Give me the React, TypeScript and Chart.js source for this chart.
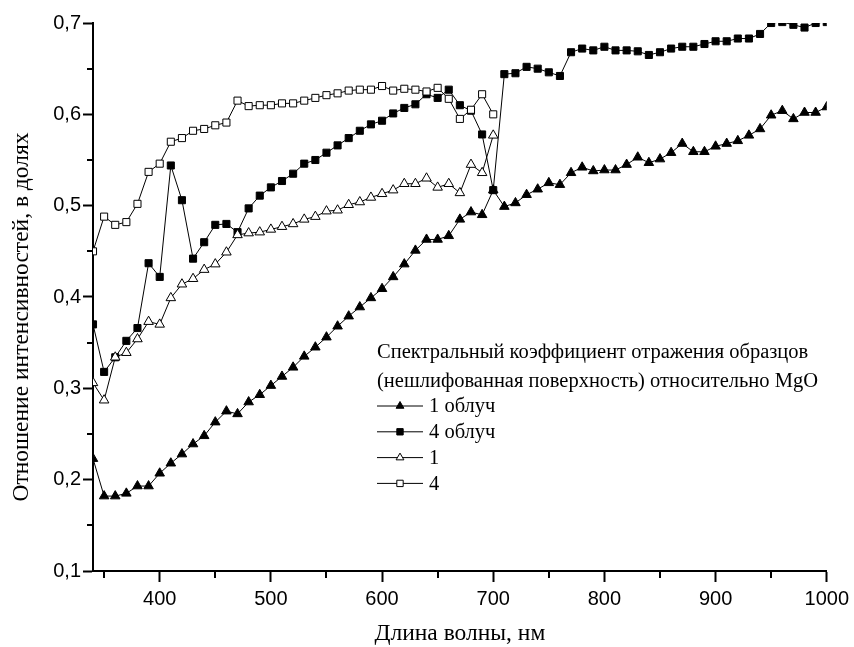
import React, { useEffect, useRef } from "react";
import { Chart, registerables } from "chart.js";

Chart.register(...registerables);

const wavelengthsFull = [
  340, 350, 360, 370, 380, 390, 400, 410, 420, 430, 440, 450, 460, 470, 480, 490,
  500, 510, 520, 530, 540, 550, 560, 570, 580, 590, 600, 610, 620, 630, 640, 650,
  660, 670, 680, 690, 700, 710, 720, 730, 740, 750, 760, 770, 780, 790, 800, 810,
  820, 830, 840, 850, 860, 870, 880, 890, 900, 910, 920, 930, 940, 950, 960, 970,
  980, 990, 1000,
];
const wavelengthsShort = [
  340, 350, 360, 370, 380, 390, 400, 410, 420, 430, 440, 450, 460, 470, 480, 490,
  500, 510, 520, 530, 540, 550, 560, 570, 580, 590, 600, 610, 620, 630, 640, 650,
  660, 670, 680, 690, 700,
];

const irradiated1 = [
  0.223, 0.182, 0.182, 0.185, 0.193, 0.193, 0.207, 0.218, 0.228, 0.239, 0.248, 0.263,
  0.275, 0.272, 0.285, 0.293, 0.303, 0.313, 0.323, 0.335, 0.345, 0.356, 0.368, 0.379,
  0.389, 0.399, 0.409, 0.422, 0.436, 0.451, 0.463, 0.463, 0.467, 0.485, 0.493, 0.49,
  0.517, 0.499, 0.503, 0.512, 0.518, 0.525, 0.523, 0.536, 0.542, 0.538, 0.539, 0.539,
  0.545, 0.553, 0.547, 0.551, 0.558, 0.568, 0.559, 0.559, 0.565, 0.568, 0.571, 0.577,
  0.584, 0.599, 0.604, 0.595, 0.602, 0.602, 0.608,
];
const irradiated4 = [
  0.37, 0.318, 0.334, 0.352, 0.366, 0.437, 0.422, 0.544, 0.506, 0.442, 0.46, 0.479,
  0.48, 0.471, 0.497, 0.511, 0.52, 0.527, 0.535, 0.546, 0.55, 0.558, 0.566, 0.574,
  0.582, 0.589, 0.593, 0.601, 0.607, 0.611, 0.622, 0.618, 0.627, 0.61, 0.604, 0.578,
  0.517, 0.644, 0.645, 0.652, 0.65, 0.646, 0.642, 0.668, 0.672, 0.67, 0.674, 0.67,
  0.67, 0.669, 0.665, 0.668, 0.672, 0.674, 0.674, 0.677, 0.68, 0.68, 0.683, 0.683,
  0.688, 0.7, 0.701, 0.698, 0.695, 0.7, 0.701,
];
const sample1 = [
  0.306, 0.287, 0.334, 0.339, 0.354, 0.373, 0.37, 0.399, 0.414, 0.42, 0.43, 0.436,
  0.449, 0.468, 0.47, 0.471, 0.474, 0.477, 0.48, 0.485, 0.488, 0.494, 0.495, 0.501,
  0.504, 0.509, 0.513, 0.517, 0.524, 0.524, 0.53, 0.52, 0.524, 0.514, 0.545, 0.536,
  0.577,
];
const sample4 = [
  0.45, 0.488, 0.479, 0.482, 0.502, 0.537, 0.546, 0.57, 0.574, 0.582, 0.584, 0.588,
  0.591, 0.615, 0.609, 0.61, 0.61, 0.612, 0.612, 0.615, 0.618, 0.621, 0.623, 0.626,
  0.627, 0.627, 0.631, 0.626, 0.628, 0.627, 0.625, 0.629, 0.617, 0.595, 0.605, 0.622,
  0.6,
];

const seriesLabels = ["1 облуч", "4 облуч", "1", "4"];
const legendTitle = [
  "Спектральный коэффициент отражения образцов",
  "(нешлифованная поверхность) относительно MgO",
];
const xAxisTitle = "Длина волны, нм";
const yAxisTitle = "Отношение интенсивностей, в долях";
const xMajorTicks = [400, 500, 600, 700, 800, 900, 1000];
const xMinorTicks = [350, 450, 550, 650, 750, 850, 950];
const yMajorTicks = [0.1, 0.2, 0.3, 0.4, 0.5, 0.6, 0.7];
const yMinorTicks = [0.15, 0.25, 0.35, 0.45, 0.55, 0.65];

const SERIF = "'Liberation Serif', 'Times New Roman', serif";
const SANS = "'Liberation Sans', Arial, sans-serif";

function toPoints(xs: number[], ys: number[]) {
  return ys.map((v, i) => ({ x: xs[i], y: v }));
}

function drawMarker(ctx: CanvasRenderingContext2D, style: string, filled: boolean, x: number, y: number, r: number) {
  ctx.beginPath();
  if (style === "triangle") {
    ctx.moveTo(x, y - r);
    ctx.lineTo(x + r * 0.866, y + r * 0.5);
    ctx.lineTo(x - r * 0.866, y + r * 0.5);
    ctx.closePath();
  } else {
    const s = r * Math.SQRT1_2;
    ctx.rect(x - s, y - s, 2 * s, 2 * s);
  }
  ctx.fillStyle = filled ? "#000" : "#fff";
  ctx.fill();
  ctx.lineWidth = 1;
  ctx.strokeStyle = "#000";
  ctx.stroke();
}

const minorTicksPlugin = {
  id: "minorTicks",
  afterDraw(chart: any) {
    const ctx = chart.ctx as CanvasRenderingContext2D;
    const xs = chart.scales.x;
    const ys = chart.scales.y;
    ctx.save();
    ctx.strokeStyle = "#000";
    ctx.lineWidth = 2;
    ctx.beginPath();
    for (const v of xMinorTicks) {
      const px = Math.round(xs.getPixelForValue(v));
      ctx.moveTo(px, chart.chartArea.bottom);
      ctx.lineTo(px, chart.chartArea.bottom + 7);
    }
    for (const v of yMinorTicks) {
      const py = Math.round(ys.getPixelForValue(v));
      ctx.moveTo(chart.chartArea.left, py);
      ctx.lineTo(chart.chartArea.left - 6, py);
    }
    ctx.stroke();

    // axis titles
    ctx.fillStyle = "#000";
    ctx.font = `23.5px ${SERIF}`;
    ctx.textAlign = "center";
    ctx.textBaseline = "middle";
    const ca = chart.chartArea;
    ctx.fillText(xAxisTitle, (ca.left + ca.right) / 2, 634);
    ctx.save();
    ctx.translate(22, (ca.top + ca.bottom) / 2 + 20);
    ctx.rotate(-Math.PI / 2);
    ctx.fillText(yAxisTitle, 0, 0);
    ctx.restore();
    ctx.restore();
  },
};

const legendPlugin = {
  id: "customLegend",
  afterDraw(chart: any) {
    const ctx = chart.ctx as CanvasRenderingContext2D;
    const left = 377;
    const top = 353;
    const row = 25.8;
    ctx.save();
    ctx.font = `20.5px ${SERIF}`;
    ctx.fillStyle = "#000";
    ctx.textBaseline = "middle";
    ctx.textAlign = "left";
    legendTitle.forEach((t, i) => ctx.fillText(t, left, top + i * 28.5));
    chart.data.datasets.forEach((ds: any, i: number) => {
      const y = top + 53 + i * row;
      ctx.beginPath();
      ctx.strokeStyle = "#000";
      ctx.lineWidth = 1;
      ctx.moveTo(left, y);
      ctx.lineTo(left + 46, y);
      ctx.stroke();
      drawMarker(ctx, ds.pointStyle, ds.pointBackgroundColor === "#000", left + 23, y, 4.5);
      ctx.fillStyle = "#000";
      ctx.fillText(ds.label, left + 52, y + 1);
    });
    ctx.restore();
  },
};

export default function App() {
  const canvasRef = useRef<HTMLCanvasElement | null>(null);

  useEffect(() => {
    if (!canvasRef.current) return;
    const mk = (label: string, xs: number[], ys: number[], style: string, filled: boolean, r: number, order: number) => ({
      label,
      data: toPoints(xs, ys),
      borderColor: "#000",
      borderWidth: 1,
      pointStyle: style,
      pointRadius: r,
      pointBackgroundColor: filled ? "#000" : "#fff",
      pointBorderColor: "#000",
      pointBorderWidth: 1,
      tension: 0,
      fill: false,
      clip: 0,
      order,
    });
    const chart = new Chart(canvasRef.current, {
      type: "line",
      data: {
        datasets: [
          mk(seriesLabels[0], wavelengthsFull, irradiated1, "triangle", true, 5.5, 4),
          mk(seriesLabels[1], wavelengthsFull, irradiated4, "rect", true, 5, 3),
          mk(seriesLabels[2], wavelengthsShort, sample1, "triangle", false, 5.5, 2),
          mk(seriesLabels[3], wavelengthsShort, sample4, "rect", false, 5, 1),
        ] as any,
      },
      options: {
        responsive: false,
        animation: false,
        layout: { padding: { top: 23, right: 26, bottom: 0, left: 0 } },
        plugins: { legend: { display: false }, tooltip: { enabled: false } },
        scales: {
          x: {
            type: "linear",
            min: 340,
            max: 1000,
            afterBuildTicks: (s: any) => {
              s.ticks = xMajorTicks.map((v) => ({ value: v }));
            },
            afterFit: (s: any) => {
              s.height = 76;
            },
            grid: { drawOnChartArea: false, drawTicks: true, tickLength: 11, tickWidth: 2, color: "#000" },
            border: { display: true, color: "#000", width: 2 },
            ticks: {
              font: { family: SANS, size: 20 },
              color: "#000",
              padding: 5,
              maxRotation: 0,
              autoSkip: false,
              callback: (v: any) => String(v),
            },
            title: { display: false },
          },
          y: {
            type: "linear",
            min: 0.1,
            max: 0.7,
            afterBuildTicks: (s: any) => {
              s.ticks = yMajorTicks.map((v) => ({ value: v }));
            },
            afterFit: (s: any) => {
              s.width = 93;
            },
            grid: { drawOnChartArea: false, drawTicks: true, tickLength: 10, tickWidth: 2, color: "#000" },
            border: { display: true, color: "#000", width: 2 },
            ticks: {
              font: { family: SANS, size: 20 },
              color: "#000",
              padding: 2,
              autoSkip: false,
              callback: (v: any) => Number(v).toFixed(1).replace(".", ","),
            },
            title: { display: false },
          },
        },
      } as any,
      plugins: [minorTicksPlugin, legendPlugin],
    });
    return () => chart.destroy();
  }, []);

  return (
    <div style={{ position: "absolute", left: 0, top: 0, width: 854, height: 647, background: "#fff" }}>
      <canvas ref={canvasRef} width={854} height={647} style={{ display: "block" }} />
    </div>
  );
}
